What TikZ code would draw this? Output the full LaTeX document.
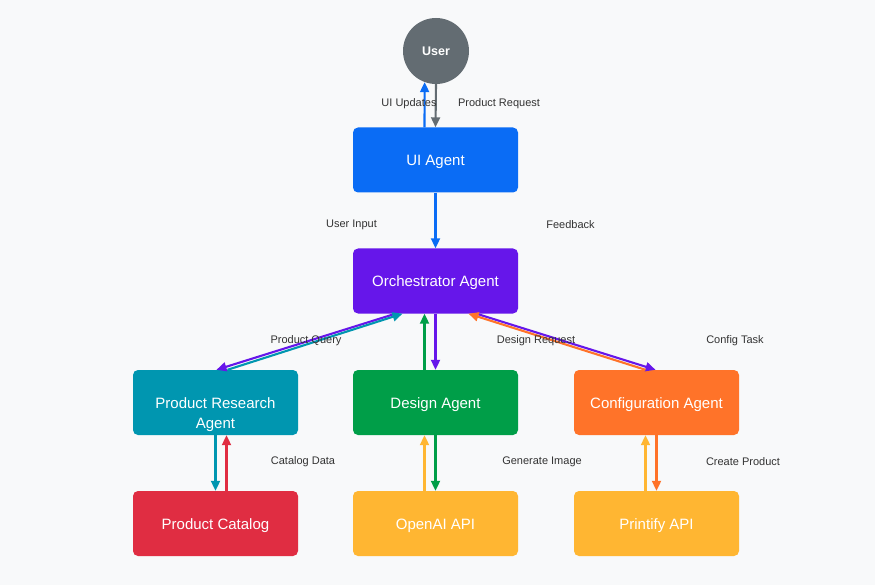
\documentclass[tikz,border=0pt]{standalone}
\usepackage{fontspec}
\setmainfont{Liberation Sans}
\usetikzlibrary{arrows.meta}
\definecolor{bgc}{HTML}{F8F9FA}
\definecolor{usergray}{HTML}{636C72}
\definecolor{uiblue}{HTML}{0A6CF5}
\definecolor{orchpurple}{HTML}{6616EA}
\definecolor{researchteal}{HTML}{0096B0}
\definecolor{designgreen}{HTML}{009E48}
\definecolor{configorange}{HTML}{FF7329}
\definecolor{catalogred}{HTML}{E02D42}
\definecolor{apiyellow}{HTML}{FFB632}
\definecolor{labelgray}{HTML}{333333}
\newcommand{\boxtext}[1]{\raisebox{-5.5pt}[0pt][0pt]{\begin{tabular}[b]{@{}c@{}}#1\end{tabular}}}
\newcommand{\boxtexttwo}[1]{\raisebox{-5.5pt}[0pt][0pt]{\begin{tabular}[t]{@{}c@{}}#1\end{tabular}}}
\tikzset{
  agentbox/.style={rectangle, rounded corners=5pt, minimum width=165pt, minimum height=65pt, inner sep=0pt, text=white, font=\fontsize{15pt}{20pt}\selectfont},
  flow/.style={line width=2.1pt, -{Triangle[length=10pt,width=9pt]}},
  flowlabel/.style={text=labelgray, font=\fontsize{11pt}{13pt}\selectfont, inner sep=0pt}
}
\begin{document}
\begin{tikzpicture}[x=1pt,y=-1pt]
\useasboundingbox (0,0) rectangle (875,585);
\fill[bgc] (0,0) rectangle (875,585);

\node[circle, fill=usergray, minimum size=66pt, inner sep=0pt, text=white, font=\bfseries\fontsize{12.5pt}{15pt}\selectfont] (user) at (436,51) {\raisebox{-5pt}[0pt][0pt]{User}};
\node[agentbox, fill=uiblue] (ui) at (435.5,160) {\boxtext{UI Agent}};
\node[agentbox, fill=orchpurple] (orch) at (435.5,281) {\boxtext{Orchestrator Agent}};
\node[agentbox, fill=researchteal] (pra) at (215.5,402.5) {\boxtexttwo{Product Research\\Agent}};
\node[agentbox, fill=designgreen] (design) at (435.5,402.5) {\boxtext{Design Agent}};
\node[agentbox, fill=configorange] (config) at (656.5,402.5) {\boxtext{Configuration Agent}};
\node[agentbox, fill=catalogred] (catalog) at (215.5,523.5) {\boxtext{Product Catalog}};
\node[agentbox, fill=apiyellow] (openai) at (435.5,523.5) {\boxtext{OpenAI API}};
\node[agentbox, fill=apiyellow] (printify) at (656.5,523.5) {\boxtext{Printify API}};

% User <-> UI
\draw[flow, uiblue] ([xshift=-11pt]ui.north) -- (user.250.5);
\draw[flow, usergray] (user.south) -- (ui.north);
% UI -> Orchestrator
\draw[flow, uiblue] (ui.south) -- (orch.north);
% Orchestrator <-> Product Research
\draw[flow, orchpurple] ([xshift=-40pt]orch.south) -- ([xshift=1pt]pra.north);
\draw[flow, researchteal] ([xshift=12pt]pra.north) -- ([xshift=-33pt]orch.south);
% Orchestrator <-> Design
\draw[flow, orchpurple] (orch.south) -- (design.north);
\draw[flow, designgreen] ([xshift=-11pt]design.north) -- ([xshift=-11pt]orch.south);
% Orchestrator <-> Configuration
\draw[flow, orchpurple] ([xshift=41pt]orch.south) -- ([xshift=-1pt]config.north);
\draw[flow, configorange] ([xshift=-11pt]config.north) -- ([xshift=33pt]orch.south);
% Research <-> Catalog
\draw[flow, researchteal] (pra.south) -- (catalog.north);
\draw[flow, catalogred] ([xshift=11pt]catalog.north) -- ([xshift=11pt]pra.south);
% Design <-> OpenAI
\draw[flow, apiyellow] ([xshift=-11pt]openai.north) -- ([xshift=-11pt]design.south);
\draw[flow, designgreen] (design.south) -- (openai.north);
% Config <-> Printify
\draw[flow, apiyellow] ([xshift=-11pt]printify.north) -- ([xshift=-11pt]config.south);
\draw[flow, configorange] (config.south) -- (printify.north);

% labels
\node[flowlabel] (l1) at (409,103.5) {UI Updates};
\node[flowlabel] (l2) at (499,103.5) {Product Request};
\node[flowlabel] (l3) at (351.5,224.5) {User Input};
\node[flowlabel] (l4) at (570.5,224.5) {Feedback};
\node[flowlabel] (l5) at (306,340.5) {Product Query};
\node[flowlabel] (l6) at (536,340.5) {Design Request};
\node[flowlabel] (l7) at (735,340.5) {Config Task};
\node[flowlabel] (l8) at (303,461.5) {Catalog Data};
\node[flowlabel] (l9) at (542,461.5) {Generate Image};
\node[flowlabel] (l10) at (743,461.5) {Create Product};
\end{tikzpicture}
\end{document}
